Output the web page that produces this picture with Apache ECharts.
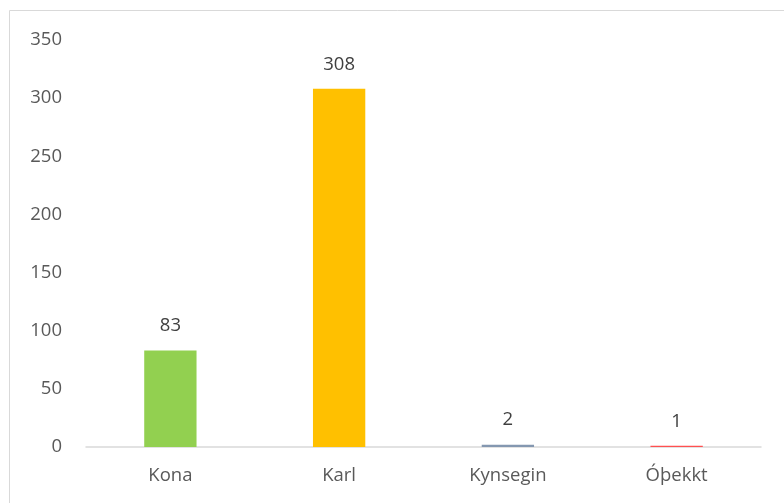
<!DOCTYPE html>
<html>
<head>
<meta charset="utf-8">
<script src="https://cdn.jsdelivr.net/npm/echarts@6/dist/echarts.min.js"></script>
<style>
  html, body { margin: 0; padding: 0; background: #fff; }
  #chart { width: 784px; height: 503px; }
</style>
</head>
<body>
<div id="chart"></div>
<script>
const categories = ['Kona', 'Karl', 'Kynsegin', 'Óþekkt']
const values = [83, 308, 2, 1]
const barColors = ['#92D050', '#FFC000', '#8497B0', '#FF5050']

const chart = echarts.init(document.getElementById('chart'))

chart.setOption({
  animation: false,
  textStyle: {
    fontFamily: 'Open Sans'
  },
  graphic: [{
    type: 'rect',
    shape: { x: 9.5, y: 10.5, width: 800, height: 520 },
    style: { fill: 'none', stroke: '#d9d9d9', lineWidth: 1 },
    silent: true
  }],
  grid: {
    left: 86,
    right: 23,
    top: 40,
    bottom: 56
  },
  xAxis: {
    type: 'category',
    data: categories,
    axisTick: { show: false },
    axisLine: {
      lineStyle: { color: '#d9d9d9', width: 1.5 }
    },
    axisLabel: {
      color: '#595959',
      fontSize: 18.5,
      margin: 19
    }
  },
  yAxis: {
    type: 'value',
    min: 0,
    max: 350,
    interval: 50,
    axisLine: { show: false },
    axisTick: { show: false },
    splitLine: { show: false },
    axisLabel: {
      color: '#595959',
      fontSize: 18.5,
      margin: 24
    }
  },
  series: [{
    type: 'bar',
    barWidth: '31%',
    data: values.map((v, i) => ({
      value: v,
      itemStyle: { color: barColors[i] }
    })),
    label: {
      show: true,
      position: 'top',
      distance: 15,
      color: '#404040',
      fontSize: 18.5
    }
  }]
})
</script>
</body>
</html>
